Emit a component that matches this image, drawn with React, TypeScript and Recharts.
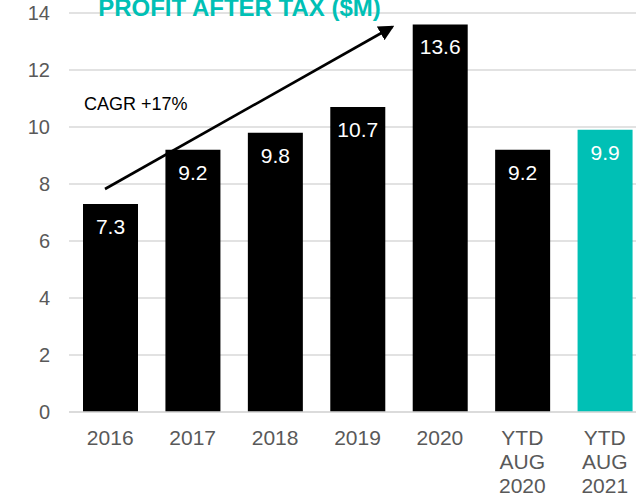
import { BarChart, Bar, CartesianGrid, XAxis, YAxis, Cell, LabelList } from 'recharts';

const categories = ['2016', '2017', '2018', '2019', '2020', 'YTD\nAUG\n2020', 'YTD\nAUG\n2021'];
const profit = [7.3, 9.2, 9.8, 10.7, 13.6, 9.2, 9.9];
const yTicks = [0, 2, 4, 6, 8, 10, 12, 14];

const data = categories.map((c, i) => ({ period: c, profit: profit[i] }));

const FONT = '"Liberation Sans", Arial, sans-serif';
const TEAL = '#00C0B5';

const MultiLineTick = (props: any) => {
  const { x, y, payload } = props;
  const lines = String(payload.value).split('\n');
  return (
    <text x={x} y={y} textAnchor="middle" fill="#595959" fontSize={21} fontFamily={FONT}>
      {lines.map((l, i) => (
        <tspan key={i} x={x} dy={i === 0 ? 25 : 24}>
          {l}
        </tspan>
      ))}
    </text>
  );
};

const App = () => {
  return (
    <div style={{ position: 'absolute', left: 0, top: 0, width: 636, height: 496, overflow: 'hidden', background: '#fff' }}>
      <BarChart width={660} height={496} data={data} margin={{ top: 13, right: 14, left: 0, bottom: 0 }}>
        <CartesianGrid vertical={false} stroke="#d9d9d9" strokeWidth={1.5} />
        <XAxis
          dataKey="period"
          axisLine={{ stroke: '#d9d9d9', strokeWidth: 1.5 }}
          tickLine={false}
          interval={0}
          tick={<MultiLineTick />}
          height={84}
        />
        <YAxis
          domain={[0, 14]}
          ticks={yTicks}
          axisLine={false}
          tickLine={false}
          width={69}
          tickMargin={13}
          tick={{ fill: '#595959', fontSize: 20, fontFamily: FONT }}
        />
        <Bar dataKey="profit" barSize={55} isAnimationActive={false}>
          {data.map((_, i) => (
            <Cell key={i} fill={i === data.length - 1 ? TEAL : '#000000'} />
          ))}
          <LabelList dataKey="profit" position="insideTop" offset={15} fill="#ffffff" fontSize={21} fontFamily={FONT} />
        </Bar>
      </BarChart>
      <svg width={636} height={496} style={{ position: 'absolute', left: 0, top: 0, pointerEvents: 'none' }}>
        <defs>
          <marker id="ah" markerWidth="6" markerHeight="6" refX="5" refY="3" orient="auto" markerUnits="strokeWidth">
            <path d="M0,0 L6,3 L0,6 Z" fill="#000" />
          </marker>
        </defs>
        <text x={239.5} y={16} textAnchor="middle" fill={TEAL} fontSize={24} fontWeight="bold" fontFamily={FONT}>
          PROFIT AFTER TAX ($M)
        </text>
        <text x={84} y={110} fill="#000" fontSize={18} fontFamily={FONT}>
          CAGR +17%
        </text>
        <line x1={105} y1={189} x2={392} y2={27} stroke="#000" strokeWidth={2.6} markerEnd="url(#ah)" />
      </svg>
    </div>
  );
};

export default App;
